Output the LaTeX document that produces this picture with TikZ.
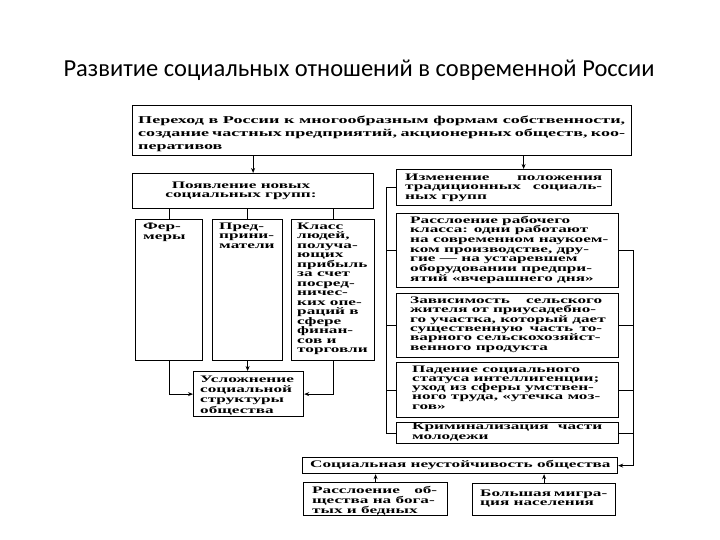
\documentclass[tikz,border=0pt]{standalone}
\usepackage{fontspec}
\setmainfont{Liberation Serif}
\newfontfamily\titlefont{Carlito}
\newfontfamily\scanfont{Liberation Serif}[FakeStretch=1.72]
\usetikzlibrary{arrows.meta,calc}
\newcommand\jl[2]{\makebox[#1][s]{#2}}
\newcommand\tstrut{\rule{0pt}{7.5pt}}
\begin{document}
\begin{tikzpicture}[x=1pt,y=-1pt,
  box/.style={draw=black, line width=1.2pt, rectangle, inner sep=0pt, anchor=north west},
  txt/.style={anchor=north west, inner sep=0pt, align=left, text=black},
  fs/.style={font=\scanfont\bfseries\fontsize{10}{#1}\selectfont},
  arr/.style={-{Stealth[length=5pt,width=4pt]}, line width=0.9pt},
  con/.style={line width=0.9pt}]
\useasboundingbox (0,0) rectangle (720,540);

% title
\node[anchor=base, inner sep=0pt, font=\titlefont\fontsize{24.5}{28}\selectfont] (title) at (359,77)
  {Развитие социальных отношений в современной России};

% boxes
\node[box, minimum width=499pt, minimum height=50pt] (top) at (132,105) {};
\node[box, minimum width=241pt, minimum height=35pt] (b2) at (132,173) {};
\node[box, minimum width=67pt, minimum height=141pt] (fer) at (135,219) {};
\node[box, minimum width=70pt, minimum height=141pt] (pre) at (212,219) {};
\node[box, minimum width=83pt, minimum height=141pt] (kl) at (291,219) {};
\node[box, minimum width=110pt, minimum height=45pt] (usl) at (193,371) {};
\node[box, minimum width=215pt, minimum height=36pt] (b7) at (396,169) {};
\node[box, minimum width=222pt, minimum height=74pt] (b8) at (396,213) {};
\node[box, minimum width=222pt, minimum height=64pt] (b9) at (396,293) {};
\node[box, minimum width=222pt, minimum height=55pt] (b10) at (396,362) {};
\node[box, minimum width=222pt, minimum height=21pt] (b11) at (396,422) {};
\node[box, minimum width=315pt, minimum height=16pt] (soc) at (302,457) {};
\node[box, minimum width=144pt, minimum height=33pt] (rb) at (303,482) {};
\node[box, minimum width=143pt, minimum height=32pt] (mig) at (472,483) {};

% texts (anchor = top of first line; first baselines at y+7.5)
\node[txt, font=\scanfont\bfseries\fontsize{10.5}{13.3}\selectfont] (topt) at (138,115)
  {\rule{0pt}{8pt}\jl{487pt}{Переход в России к многообразным формам собственности,}\\
   \jl{487pt}{создание частных предприятий, акционерных обществ, коо-}\\
   перативов};
\node[anchor=north, inner sep=0pt, align=center, fs=9.5] (b2t) at (241,180.5)
  {\tstrut Появление новых\\социальных групп:};
\node[txt, fs=10] (fert) at (143,221.5) {\tstrut Фер-\\меры};
\node[txt, fs=9.5] (pret) at (219,221.5) {\tstrut Пред-\\прини-\\матели};
\node[txt, fs=9.5] (klt) at (297,221.5)
  {\tstrut Класс\\людей,\\получа-\\ющих\\прибыль\\за счет\\посред-\\ничес-\\ких опе-\\раций в\\сфере\\финан-\\сов и\\торговли};
\node[txt, fs=10.3] (uslt) at (200,374.5) {\tstrut Усложнение\\социальной\\структуры\\общества};
\node[txt, fs=9.5] (b7t) at (405,172.5)
  {\tstrut\jl{197pt}{Изменение положения}\\\jl{197pt}{традиционных социаль-}\\ных групп};
\node[txt, fs=9.7] (b8t) at (410,215.5)
  {\tstrut Расслоение рабочего\\класса: одни работают\\на современном наукоем-\\ком производстве, дру-\\гие — на устаревшем\\оборудовании предпри-\\ятий «вчерашнего дня»};
\node[txt, fs=9.4] (b9t) at (410,295.5)
  {\tstrut\jl{192pt}{Зависимость сельского}\\жителя от приусадебно-\\го участка, который дает\\\jl{192pt}{существенную часть то-}\\варного сельскохозяйст-\\венного продукта};
\node[txt, fs=9.25] (b10t) at (412,364.5)
  {\tstrut Падение социального\\статуса интеллигенции;\\уход из сферы умствен-\\ного труда, «утечка моз-\\гов»};
\node[txt, fs=10] (b11t) at (412,421.5)
  {\tstrut\jl{190pt}{Криминализация части}\\молодежи};
\node[txt, fs=10] (soct) at (310,459.5) {\tstrut Социальная неустойчивость общества};
\node[txt, fs=10] (rbt) at (312,485.5)
  {\tstrut\jl{125pt}{Расслоение об-}\\щества на бога-\\тых и бедных};
\node[txt, fs=9.5] (migt) at (480,488.5)
  {\tstrut\jl{127pt}{Большая мигра-}\\ция населения};

% connectors
\draw[arr] (b2.north |- top.south) -- (b2.north);
\draw[arr] ([xshift=19.5pt]b7.north |- top.south) -- ([xshift=19.5pt]b7.north);
\draw[con] (fer.north |- b2.south) -- (fer.north);
\draw[con] (pre.north |- b2.south) -- (pre.north);
\draw[con] (kl.north |- b2.south) -- (kl.north);
\draw[arr] (fer.south) |- (usl.west);
\draw[arr] (pre.south) -- (pre.south |- usl.north);
\draw[arr] (kl.south) |- (usl.east);
% left bracket
\draw[con] (b7.west) -- ++(-10,0) |- (b11.west);
\draw[con] (b8.west) -- ++(-10,0);
\draw[con] (b9.west) -- ++(-10,0);
\draw[con] (b10.west) -- ++(-10,0);
% right bracket
\draw[arr] (b8.east) -- ++(14,0) |- (soc.east);
\draw[con] (b9.east) -- ++(14,0);
\draw[con] (b10.east) -- ++(14,0);
\draw[con] (b11.east) -- ++(14,0);
% bottom
\draw[arr] (rb.north) -- (rb.north |- soc.south);
\draw[arr] (mig.north) -- (mig.north |- soc.south);
\end{tikzpicture}
\end{document}
